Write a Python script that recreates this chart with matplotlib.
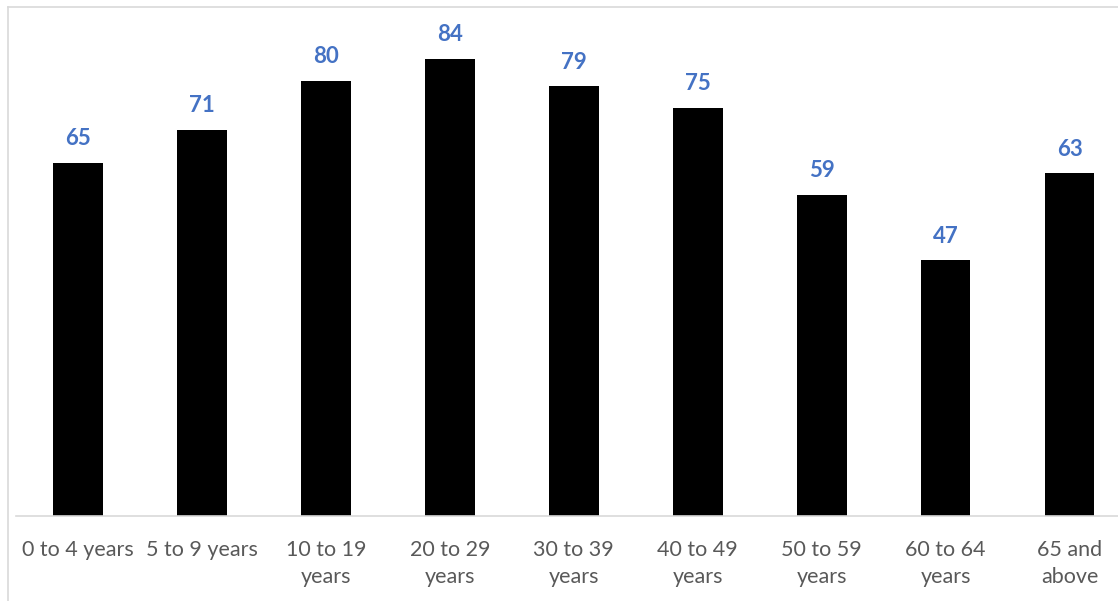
import matplotlib.pyplot as plt
from matplotlib.lines import Line2D

categories = ['0 to 4 years', '5 to 9 years', '10 to 19\nyears', '20 to 29\nyears',
              '30 to 39\nyears', '40 to 49\nyears', '50 to 59\nyears', '60 to 64\nyears',
              '65 and\nabove']
values = [65, 71, 80, 84, 79, 75, 59, 47, 63]

W, H = 1118, 601
fig = plt.figure(figsize=(W / 100, H / 100), dpi=100)

# chart frame (left and top edge of the pasted chart)
fig.add_artist(Line2D([8 / W, 8 / W], [0, 1 - 7 / H], color='#D9D9D9', lw=1.2))
fig.add_artist(Line2D([8 / W, 1], [1 - 7 / H, 1 - 7 / H], color='#D9D9D9', lw=1.2))

ax = fig.add_axes([16 / W, 1 - 516 / H, (1118 - 16) / W, (516 - 7) / H])
x = range(len(values))
ax.bar(x, values, width=0.40, color='black')
for xi, v in zip(x, values):
    ax.annotate(str(v), (xi, v), xytext=(0, 10), textcoords='offset points',
                ha='center', va='bottom', color='#4472C4', fontsize=16,
                fontweight='bold', family='Lato')

ax.set_xlim(-0.5, 8.39)
ax.set_ylim(0, 93.6)
ax.set_xticks(list(x))
ax.set_xticklabels(categories, color='#595959', fontsize=15.5, family='Lato',
                   fontweight='normal', linespacing=1.45)
ax.tick_params(axis='x', length=0, pad=17)
ax.set_yticks([])
for s in ['top', 'right', 'left']:
    ax.spines[s].set_visible(False)
ax.spines['bottom'].set_color('#D9D9D9')
ax.spines['bottom'].set_linewidth(1.2)

plt.savefig('out.png', dpi=100)
